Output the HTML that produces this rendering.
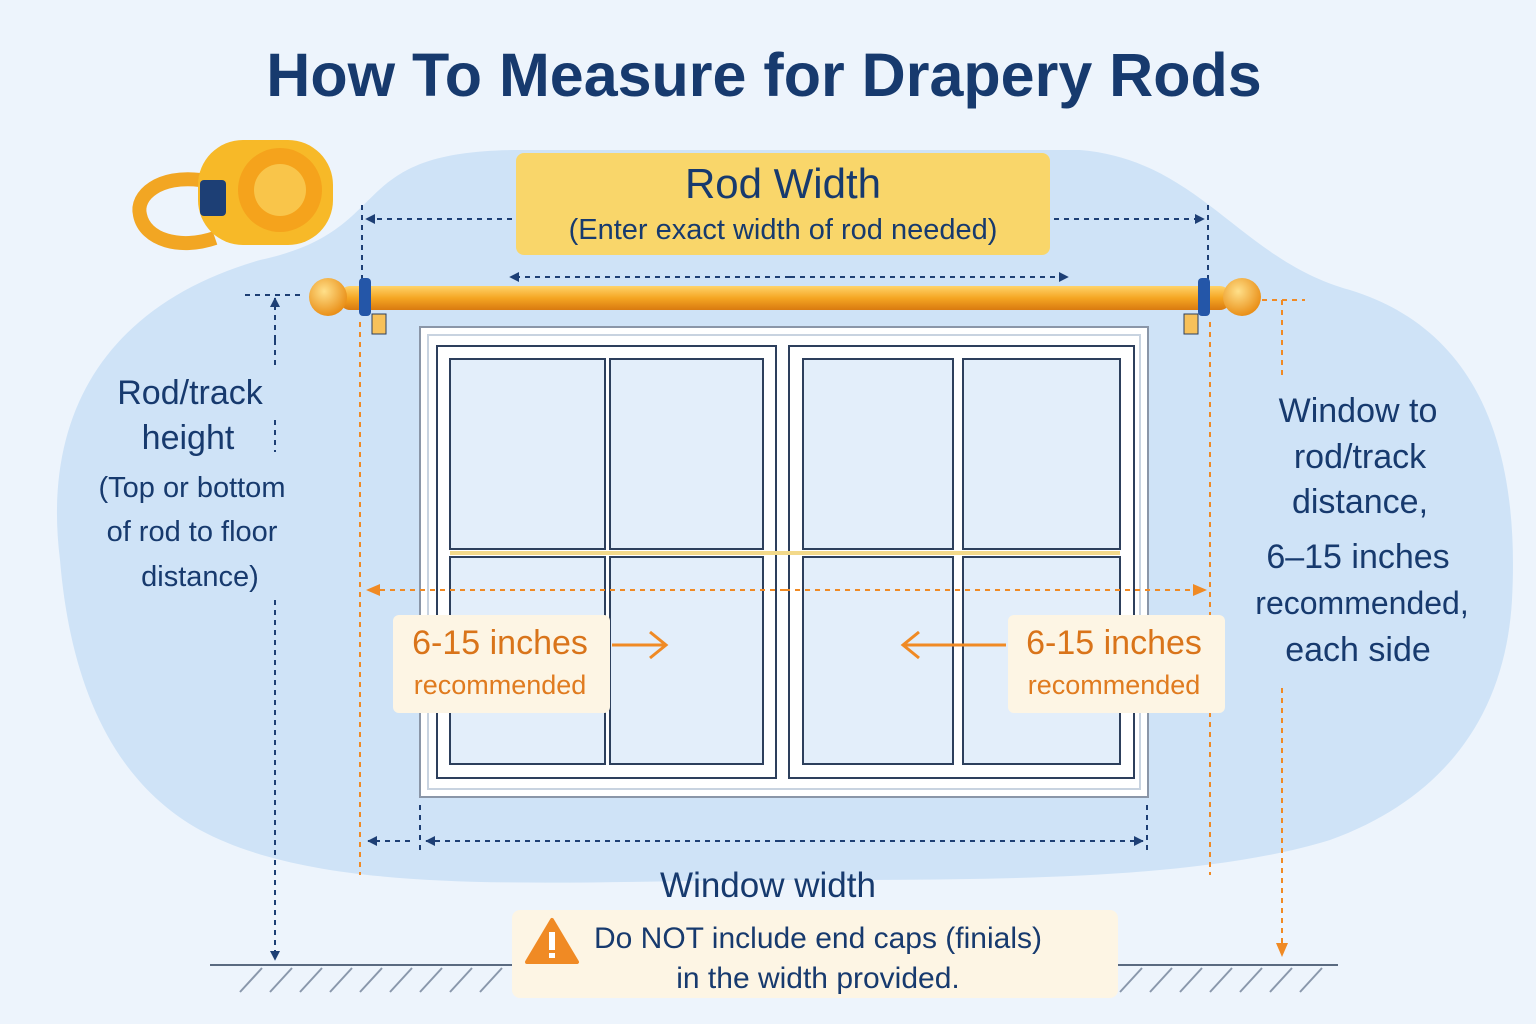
<!DOCTYPE html>
<html><head><meta charset="utf-8"><style>
html,body{margin:0;padding:0;background:#edf4fc;}
svg{display:block}
text{font-family:"Liberation Sans","DejaVu Sans",sans-serif;}
</style></head><body>
<svg width="1536" height="1024" viewBox="0 0 1536 1024" xmlns="http://www.w3.org/2000/svg">
<defs>
<marker id="an" markerWidth="10" markerHeight="10" refX="9" refY="5" orient="auto" markerUnits="userSpaceOnUse"><path d="M0,0 L14,5 L0,10 z" fill="#1d3f75" transform="scale(0.7,1)"/></marker>
<marker id="ao" markerWidth="14" markerHeight="12" refX="12" refY="6" orient="auto" markerUnits="userSpaceOnUse"><path d="M0,0 L14,6 L0,12 z" fill="#f08a24"/></marker>
<linearGradient id="rod" x1="0" y1="0" x2="0" y2="1"><stop offset="0" stop-color="#ffd36a"/><stop offset="0.5" stop-color="#f5a623"/><stop offset="1" stop-color="#d97a10"/></linearGradient>
<radialGradient id="fin" cx="0.4" cy="0.35" r="0.7"><stop offset="0" stop-color="#ffe08a"/><stop offset="1" stop-color="#e88a10"/></radialGradient>
</defs>
<rect width="1536" height="1024" fill="#edf4fc"/>
<path d="M60,560 C40,400 120,300 260,260 C400,230 340,150 520,150 L1080,150 C1200,160 1240,260 1350,290 C1480,330 1520,450 1512,600 C1505,720 1440,800 1330,840 C1200,880 1000,880 800,880 C560,880 330,900 200,830 C110,780 70,680 60,560 Z" fill="#cfe3f7"/>
<text x="764" y="96" text-anchor="middle" font-size="61" font-weight="bold" fill="#173a6e">How To Measure for Drapery Rods</text>
<g>
<path d="M200,180 C160,175 135,195 140,215 C145,240 180,250 215,238" fill="none" stroke="#f2a623" stroke-width="14"/>
<rect x="198" y="140" width="135" height="105" rx="45" fill="#f7b928"/>
<circle cx="280" cy="190" r="42" fill="#f5a31c"/>
<circle cx="280" cy="190" r="26" fill="#f9c54a"/>
<rect x="200" y="180" width="26" height="36" rx="4" fill="#1d3f75"/>
</g>
<rect x="516" y="153" width="534" height="102" rx="8" fill="#f9d66a"/>
<text x="783" y="198" text-anchor="middle" font-size="42" fill="#173a6e">Rod Width</text>
<text x="783" y="239" text-anchor="middle" font-size="29" fill="#173a6e">(Enter exact width of rod needed)</text>
<g stroke="#1d3f75" stroke-width="2" stroke-dasharray="5,5" fill="none">
<line x1="512" y1="219" x2="366" y2="219" marker-end="url(#an)"/>
<line x1="1054" y1="219" x2="1204" y2="219" marker-end="url(#an)"/>
<line x1="362" y1="205" x2="362" y2="290"/>
<line x1="1208" y1="205" x2="1208" y2="290"/>
<line x1="790" y1="277" x2="510" y2="277" marker-end="url(#an)"/>
<line x1="790" y1="277" x2="1068" y2="277" marker-end="url(#an)"/>
<line x1="245" y1="295" x2="305" y2="295"/>
</g>
<rect x="420" y="327" width="728" height="470" fill="#ffffff" stroke="#8a96a8" stroke-width="2"/>
<rect x="428" y="335" width="712" height="454" fill="none" stroke="#c8d3e0" stroke-width="2"/>
<g fill="#e3eefa" stroke="#2d3f5c" stroke-width="2">
<rect x="437" y="346" width="339" height="432" fill="#fff"/>
<rect x="789" y="346" width="345" height="432" fill="#fff"/>
<rect x="450" y="359" width="155" height="190"/>
<rect x="610" y="359" width="153" height="190"/>
<rect x="450" y="557" width="155" height="207"/>
<rect x="610" y="557" width="153" height="207"/>
<rect x="803" y="359" width="150" height="190"/>
<rect x="963" y="359" width="157" height="190"/>
<rect x="803" y="557" width="150" height="207"/>
<rect x="963" y="557" width="157" height="207"/>
</g>
<line x1="450" y1="553" x2="1120" y2="553" stroke="#f3d98a" stroke-width="4"/>
<rect x="340" y="286" width="890" height="24" rx="10" fill="url(#rod)"/>
<circle cx="328" cy="297" r="19" fill="url(#fin)"/>
<circle cx="1242" cy="297" r="19" fill="url(#fin)"/>
<rect x="359" y="278" width="12" height="38" rx="4" fill="#2456a8"/>
<rect x="1198" y="278" width="12" height="38" rx="4" fill="#2456a8"/>
<rect x="372" y="314" width="14" height="20" fill="#f7c15a" stroke="#2d3f5c" stroke-width="1"/>
<rect x="1184" y="314" width="14" height="20" fill="#f7c15a" stroke="#2d3f5c" stroke-width="1"/>
<g stroke="#f08a24" stroke-width="2" stroke-dasharray="5,5" fill="none">
<line x1="360" y1="322" x2="360" y2="875"/>
<line x1="1210" y1="322" x2="1210" y2="875"/>
<line x1="785" y1="590" x2="368" y2="590" marker-end="url(#ao)"/>
<line x1="785" y1="590" x2="1205" y2="590" marker-end="url(#ao)"/>
<line x1="1262" y1="300" x2="1305" y2="300"/>
<line x1="1282" y1="300" x2="1282" y2="378"/>
<line x1="1282" y1="688" x2="1282" y2="955" marker-end="url(#ao)"/>
</g>
<rect x="393" y="615" width="217" height="98" rx="6" fill="#fdf5e4"/>
<text x="500" y="654" text-anchor="middle" font-size="34" fill="#d9741a">6-15 inches</text>
<text x="500" y="694" text-anchor="middle" font-size="27" fill="#e07b1f">recommended</text>
<line x1="612" y1="645" x2="664" y2="645" stroke="#f08a24" stroke-width="3"/>
<path d="M650,632 L666,645 L650,658" fill="none" stroke="#f08a24" stroke-width="3"/>
<rect x="1008" y="615" width="217" height="98" rx="6" fill="#fdf5e4"/>
<text x="1114" y="654" text-anchor="middle" font-size="34" fill="#d9741a">6-15 inches</text>
<text x="1114" y="694" text-anchor="middle" font-size="27" fill="#e07b1f">recommended</text>
<line x1="905" y1="645" x2="1006" y2="645" stroke="#f08a24" stroke-width="3"/>
<path d="M919,632 L903,645 L919,658" fill="none" stroke="#f08a24" stroke-width="3"/>
<g stroke="#1d3f75" stroke-width="2" stroke-dasharray="5,5" fill="none">
<line x1="420" y1="805" x2="420" y2="850"/>
<line x1="1147" y1="805" x2="1147" y2="850"/>
<line x1="410" y1="841" x2="368" y2="841" marker-end="url(#an)"/>
<line x1="780" y1="841" x2="426" y2="841" marker-end="url(#an)"/>
<line x1="780" y1="841" x2="1143" y2="841" marker-end="url(#an)"/>
<line x1="275" y1="340" x2="275" y2="370"/>
<line x1="275" y1="420" x2="275" y2="452"/>
<line x1="275" y1="600" x2="275" y2="960" marker-end="url(#an)"/>
<line x1="275" y1="340" x2="275" y2="298" marker-end="url(#an)"/>
</g>
<text x="768" y="897" text-anchor="middle" font-size="35" fill="#173a6e">Window width</text>
<line x1="210" y1="965" x2="1338" y2="965" stroke="#5a6a80" stroke-width="2"/>
<g stroke="#8a98ac" stroke-width="2">
<path d="M240,992 L262,968 M270,992 L292,968 M300,992 L322,968 M330,992 L352,968 M360,992 L382,968 M390,992 L412,968 M420,992 L442,968 M450,992 L472,968 M480,992 L502,968 M1120,992 L1142,968 M1150,992 L1172,968 M1180,992 L1202,968 M1210,992 L1232,968 M1240,992 L1262,968 M1270,992 L1292,968 M1300,992 L1322,968"/>
</g>
<rect x="512" y="910" width="606" height="88" rx="8" fill="#fdf5e4"/>
<path d="M552,920 L577,962 L527,962 Z" fill="#f08a24" stroke="#f08a24" stroke-width="4" stroke-linejoin="round"/>
<rect x="549" y="932" width="6" height="18" fill="#fff"/>
<rect x="549" y="953" width="6" height="5" fill="#fff"/>
<text x="818" y="948" text-anchor="middle" font-size="30" fill="#173a6e">Do NOT include end caps (finials)</text>
<text x="818" y="988" text-anchor="middle" font-size="30" fill="#173a6e">in the width provided.</text>
<g fill="#173a6e" text-anchor="middle">
<text x="190" y="404" font-size="34">Rod/track</text>
<text x="188" y="449" font-size="34">height</text>
<text x="192" y="497" font-size="29">(Top or bottom</text>
<text x="192" y="541" font-size="29">of rod to floor</text>
<text x="200" y="586" font-size="29">distance)</text>
</g>
<g fill="#173a6e" text-anchor="middle" font-size="34">
<text x="1358" y="422">Window to</text>
<text x="1360" y="468">rod/track</text>
<text x="1360" y="513">distance,</text>
<text x="1358" y="568">6–15 inches</text>
<text x="1362" y="614" font-size="32">recommended,</text>
<text x="1358" y="661">each side</text>
</g>
</svg>
</body></html>
